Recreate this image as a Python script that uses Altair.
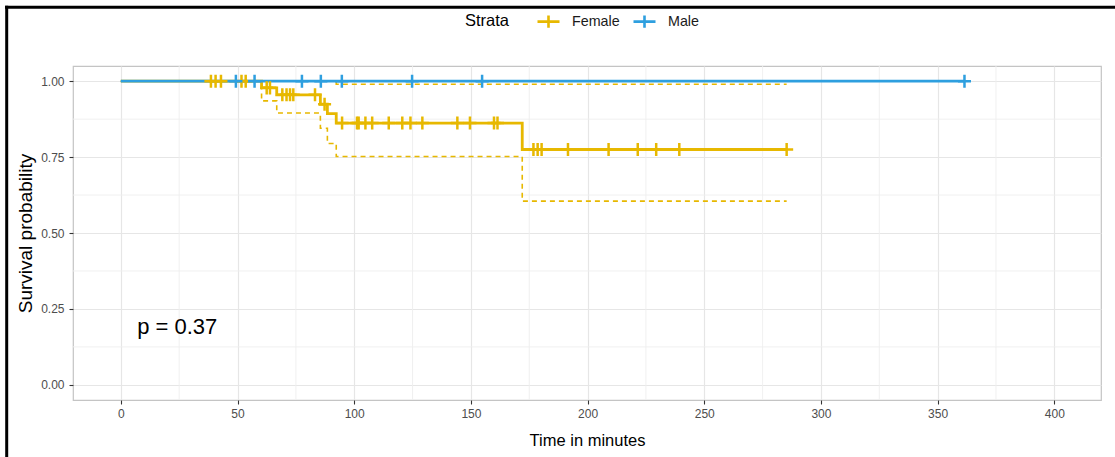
import altair as alt
import pandas as pd

# ---- data ----
female_time = [0, 60.3, 66.8, 85.5, 88.5, 92.3, 172.0, 285.3]
female_surv = [1.0, 0.978, 0.955, 0.924, 0.893, 0.862, 0.775, 0.775]
female_lower = [1.0, 0.935, 0.895, 0.845, 0.795, 0.752, 0.605, 0.605]
female_upper = [1.0, 1.0, 1.0, 1.0, 1.0, 0.99, 0.99, 0.99]
female_censor = [38.6, 40.6, 42.9, 51.7, 53.5, 62.5, 63.9, 69.2, 71.0, 72.5, 73.9, 83.2,
                 87.3, 94.8, 101.2, 101.9, 104.8, 107.7, 114.8, 120.6, 124.1, 129.2,
                 144.2, 149.6, 159.9, 161.4, 176.8, 178.6, 180.3, 191.6, 209.0, 221.5,
                 229.4, 239.3, 285.3]

male_time = [0, 361.5]
male_surv = [1.0, 1.0]
male_lower = [1.0, 1.0]
male_upper = [1.0, 1.0]
male_censor = [49.3, 57.3, 77.6, 85.7, 94.7, 124.8, 154.8, 361.5]

strata = ["Female", "Male"]
colors = ["#E7B800", "#2E9FDF"]
x_major = [0, 50, 100, 150, 200, 250, 300, 350, 400]
x_minor = [25, 75, 125, 175, 225, 275, 325, 375]
y_major = [0.0, 0.25, 0.5, 0.75, 1.0]
y_minor = [0.125, 0.375, 0.625, 0.875]
pval_text = "p = 0.37"

FONT = "Liberation Sans, Arial, Helvetica, sans-serif"


def step_value(times, surv, t):
    v = surv[0]
    for tt, s in zip(times, surv):
        if tt <= t:
            v = s
    return v


rows, ci_rows, cen_rows = [], [], []
for name, tm, sv, lo, up, cen in [
    ("Female", female_time, female_surv, female_lower, female_upper, female_censor),
    ("Male", male_time, male_surv, male_lower, male_upper, male_censor),
]:
    for t, s in zip(tm, sv):
        rows.append({"strata": name, "time": t, "surv": s})
    for t, l, u in zip(tm, lo, up):
        ci_rows.append({"strata": name, "band": name + "_lo", "time": t, "surv": l})
        ci_rows.append({"strata": name, "band": name + "_up", "time": t, "surv": u})
    for t in cen:
        cen_rows.append({"strata": name, "time": t, "surv": step_value(tm, sv, t)})

df = pd.DataFrame(rows)
df_ci = pd.DataFrame(ci_rows)
df_cen = pd.DataFrame(cen_rows)

xs = alt.Scale(domain=[-20.5, 420], nice=False, zero=False)
ys = alt.Scale(domain=[-0.05, 1.05], nice=False, zero=False)
cs = alt.Scale(domain=strata, range=colors)

legend = alt.Legend(
    title="Strata", orient="none", legendX=392, legendY=-57, direction="horizontal",
    titleOrient="left", titleFont=FONT, titleFontSize=16.5, titleFontWeight="normal",
    titleColor="#000000", titlePadding=26, labelFont=FONT, labelFontSize=14.3,
    labelColor="#1a1a1a", labelOffset=11, columnPadding=8,
    symbolType="M-1,0H1M0,-0.55V0.55", symbolSize=484, symbolStrokeWidth=2.6,
    symbolFillColor="transparent",
)

x_axis = alt.Axis(
    values=x_major, grid=True, gridColor="#e6e6e6", gridWidth=1.2, domain=False,
    tickColor="#333333", tickSize=4, tickWidth=1.1, labelFont=FONT, labelFontSize=12,
    labelColor="#4d4d4d", labelPadding=4, title="Time in minutes", titleFont=FONT,
    titleFontSize=16.5, titleFontWeight="normal", titleColor="#000000",
    titleX=514, titleY=40, titleBaseline="middle", titleAlign="center",
)
y_axis = alt.Axis(
    values=y_major, format=".2f", grid=True, gridColor="#e6e6e6", gridWidth=1.2,
    domain=False, tickColor="#333333", tickSize=4, tickWidth=1.1, labelFont=FONT,
    labelFontSize=12, labelColor="#4d4d4d", labelPadding=5,
    title="Survival probability", titleFont=FONT, titleFontSize=19,
    titleFontWeight="normal", titleColor="#000000", titleX=-47.5, titleY=167,
    titleBaseline="middle", titleAlign="center", titleAngle=-90,
)


def X(field):
    return alt.X(field, scale=xs, axis=x_axis)


def Y(field):
    return alt.Y(field, scale=ys, axis=y_axis)


minor_x = alt.Chart(pd.DataFrame({"v": x_minor})).mark_rule(
    color="#eeeeee", strokeWidth=0.9).encode(x=X("v:Q"))
minor_y = alt.Chart(pd.DataFrame({"v": y_minor})).mark_rule(
    color="#eeeeee", strokeWidth=0.9).encode(y=Y("v:Q"))

ci = alt.Chart(df_ci).mark_line(
    interpolate="step-after", strokeDash=[5, 4], strokeWidth=1.6).encode(
    x=X("time:Q"), y=Y("surv:Q"),
    color=alt.Color("strata:N", scale=cs, legend=legend),
    detail="band:N",
)

lines = alt.Chart(df).mark_line(interpolate="step-after", strokeWidth=2.8).encode(
    x=X("time:Q"), y=Y("surv:Q"),
    color=alt.Color("strata:N", scale=cs, legend=legend),
)

cens = alt.Chart(df_cen).mark_point(
    shape="M-1,0H1M0,-1V1", size=170, filled=False, strokeWidth=2.5, opacity=1).encode(
    x=X("time:Q"), y=Y("surv:Q"),
    color=alt.Color("strata:N", scale=cs, legend=legend),
)

ptext = alt.Chart(pd.DataFrame({"x": [7.0], "y": [0.19], "t": [pval_text]})).mark_text(
    align="left", baseline="middle", font=FONT, fontSize=22, color="#000000").encode(
    x=X("x:Q"), y=Y("y:Q"), text="t:N")

frame_top = alt.Chart(pd.DataFrame({"a": [0]})).mark_rule(
    color="#000000", strokeWidth=3).encode(
    x=alt.value(-68), x2=alt.value(1045), y=alt.value(-58.7))
frame_left = alt.Chart(pd.DataFrame({"a": [0]})).mark_rule(
    color="#000000", strokeWidth=3).encode(
    x=alt.value(-66.3), y=alt.value(-60.2), y2=alt.value(395))

chart = alt.layer(
    minor_x, minor_y, ci, lines, cens, ptext, frame_top, frame_left
).properties(
    width=1028, height=334,
    autosize=alt.AutoSizeParams(type="none"),
    padding={"left": 73, "top": 66, "right": 14, "bottom": 57},
    background="#ffffff",
).configure_view(stroke="#c4c4c4", strokeWidth=1.2)

chart.save("out.html", embed_options={"renderer": "svg", "actions": False})
